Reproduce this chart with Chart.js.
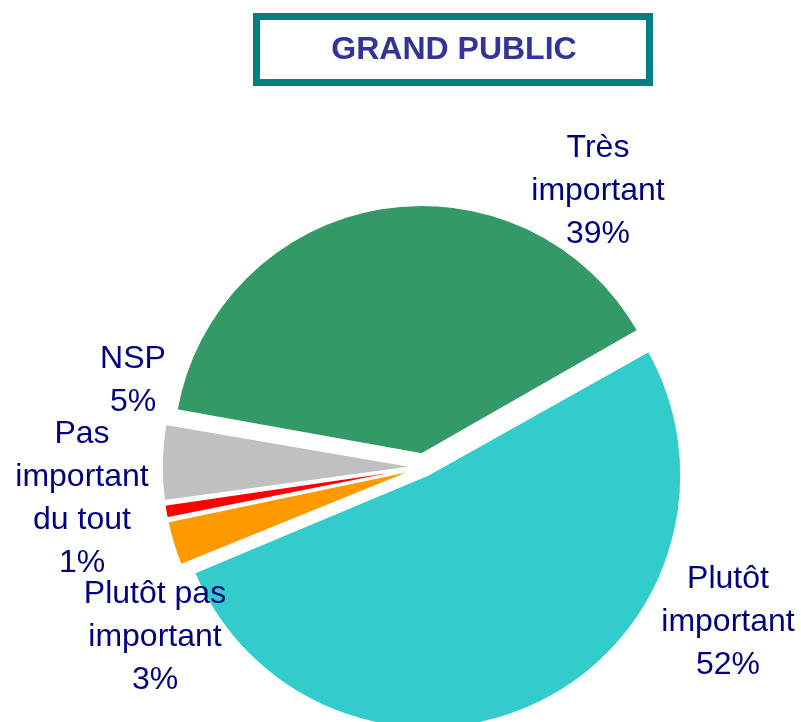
<!DOCTYPE html>
<html>
<head>
<meta charset="utf-8">
<script src="https://cdn.jsdelivr.net/npm/chart.js@4/dist/chart.umd.min.js"></script>
<style>
  html, body { margin: 0; padding: 0; background: #fff; }
  #wrap { width: 801px; height: 722px; position: relative; }
</style>
</head>
<body>
<div id="wrap"><canvas id="chart" width="801" height="722"></canvas></div>
<script>
"use strict"

// data
const chartTitle = "GRAND PUBLIC";
const categories = [["Très", "important"], ["Plutôt", "important"], ["Plutôt pas", "important"], ["Pas", "important", "du tout"], ["NSP"]];
const values = [39, 52, 3, 1, 5];
const colors = ["#339966", "#33CCCC", "#FF9900", "#FF0000", "#C0C0C0"];

// where each label block sits, relative to the pie centre (middle line baseline)
const labelSpots = [[174, -267], [304, 164], [-269, 179], [-342, 40], [-291, -78]];

const total = values.reduce((a, b) => a + b, 0);
const explode = 18; // px every slice is pulled out

// title box + slice labels
const decorPlugin = {
    id: "decor",
    afterDraw(chart) {
        const ctx = chart.ctx;
        ctx.save();
        // title box
        ctx.strokeStyle = "#008080";
        ctx.lineWidth = 7;
        ctx.strokeRect(256.5, 16.5, 393, 66);
        ctx.fillStyle = "#333399";
        ctx.font = "bold 32px 'Liberation Sans', Arial, sans-serif";
        ctx.textAlign = "center";
        ctx.textBaseline = "middle";
        ctx.fillText(chartTitle, 454, 50);

        // labels
        const meta = chart.getDatasetMeta(0);
        const cx = meta.data[0].x;
        const cy = meta.data[0].y;
        ctx.fillStyle = "#000080";
        ctx.font = "32px 'Liberation Sans', Arial, sans-serif";
        ctx.textBaseline = "alphabetic";
        const lineH = 43;
        for (let i = 0; i < values.length; i++) {
            const pct = Math.round(values[i] / total * 100) + "%";
            const lines = categories[i].concat([pct]);
            const x = cx + labelSpots[i][0];
            const yMid = cy + labelSpots[i][1];
            for (let j = 0; j < lines.length; j++) {
                const y = yMid + (j - (lines.length - 1) / 2) * lineH;
                ctx.fillText(lines[j], x, y);
            }
        }
        ctx.restore();
    }
};

// chart.js moves an arc by offset/4 * (2 - sin(circumference)), undo that so all move the same
function sliceOffset(c) {
    const circ = values[c.dataIndex] / total * 2 * Math.PI;
    const fix = 1 - Math.sin(Math.min(Math.PI, circ));
    return 4 * explode / (1 + fix);
}

const data = {
    labels: categories.map(c => c.join(" ")),
    datasets: [{
        data: values,
        backgroundColor: colors,
        borderColor: "#ffffff",
        borderWidth: 1.5,
        offset: sliceOffset,
        clip: false,
    }],
};

const config = {
    type: "pie",
    data: data,
    options: {
        responsive: false,
        animation: false,
        rotation: -80,
        radius: 244,
        layout: { padding: { left: 47, right: 0, top: 212, bottom: 0 } },
        plugins: {
            legend: { display: false },
            tooltip: { enabled: false },
        },
    },
    plugins: [decorPlugin],
};

const myChart = new Chart(document.getElementById("chart"), config);
</script>
</body>
</html>
